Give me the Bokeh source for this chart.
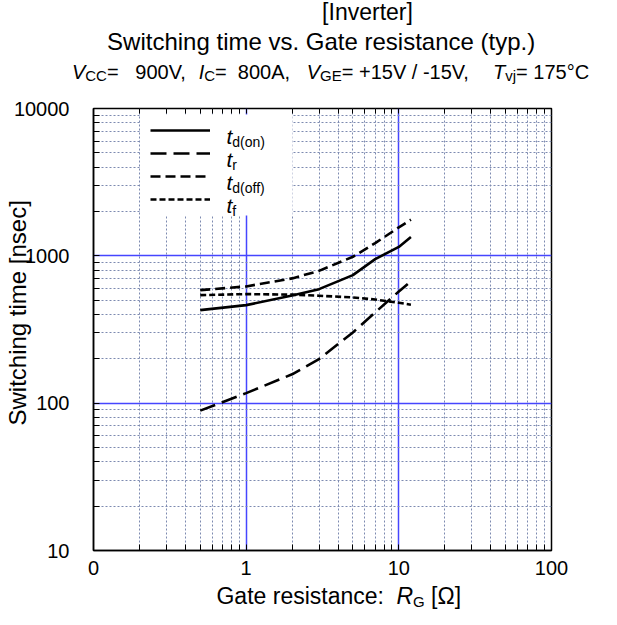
from bokeh.plotting import figure
from bokeh.layouts import column
from bokeh.models import FixedTicker, LogAxis, Label, Legend, LegendItem, Range1d, BoxAnnotation
from bokeh.core.properties import value
from bokeh.embed import file_html
from bokeh.resources import INLINE

# ---- data ----
rg = [0.5, 1, 2, 3, 5, 7, 10, 12]
td_on = [428, 463, 538, 594, 740, 950, 1150, 1340]
t_r = [89, 117, 157, 199, 302, 413, 573, 670]
td_off = [585, 620, 703, 790, 985, 1220, 1560, 1760]
t_f = [541, 550, 545, 536, 522, 505, 480, 466]

x_ticks = [0.1, 1, 10, 100]
x_tick_labels = ["0", "1", "10", "100"]
y_ticks = [10, 100, 1000, 10000]
y_tick_labels = ["10", "100", "1000", "10000"]
minor_x = [m * 10.0 ** k for k in (-1, 0, 1) for m in range(2, 10)]
minor_y = [m * 10.0 ** k for k in (1, 2, 3) for m in range(2, 10)]

FONT = "Liberation Sans"
W = 601
HEAD_H = 88
FL, FW = 91, 460
MT, FH, MB = 20, 442, 33
MAIN_H = MT + FH + MB
FOOT_H = 609 - HEAD_H - MAIN_H
PF_L = 8 + FL
PF_T = 8 + HEAD_H + MT
PF_B = PF_T + FH


def px2x(px):
    return 10 ** ((px - PF_L) / (FW / 3.0) - 1)


def py2y(py):
    return 10 ** (4 - (py - PF_T) / (FH / 3.0))


# ---------------- main figure ----------------
p = figure(width=W, height=MAIN_H, x_axis_type="log", y_axis_type="log",
           x_range=(0.1, 100), y_range=(10, 10000), title_location=None,
           output_backend="svg", toolbar_location=None, frame_align=False,
           min_border_left=FL, min_border_right=W - FL - FW,
           min_border_top=MT, min_border_bottom=MB)
p.background_fill_color = "white"
p.border_fill_color = "white"
p.outline_line_color = "black"
p.outline_line_width = 1.5

xa = p.xaxis[0]
xa.ticker = FixedTicker(ticks=x_ticks, minor_ticks=minor_x)
xa.major_label_overrides = dict(zip(x_ticks, x_tick_labels))
ya = p.yaxis[0]
ya.ticker = FixedTicker(ticks=y_ticks, minor_ticks=minor_y)
ya.major_label_overrides = dict(zip(y_ticks, y_tick_labels))
for ax in (xa, ya):
    ax.axis_line_color = "black"
    ax.axis_line_width = 1.5
    ax.major_tick_in = 6
    ax.major_tick_out = 0
    ax.minor_tick_in = 6
    ax.minor_tick_out = 0
    ax.major_tick_line_color = "black"
    ax.minor_tick_line_color = "black"
    ax.major_label_text_font = FONT
    ax.major_label_text_font_size = "20px"
    ax.major_label_text_color = "black"
xa.major_label_standoff = 10
ya.major_label_standoff = 24
ya.axis_label = "\u00a0" * 6 + "Switching time  [nsec]"
ya.axis_label_text_font = FONT
ya.axis_label_text_font_size = "24px"
ya.axis_label_text_font_style = "normal"
ya.axis_label_text_color = "black"
ya.axis_label_standoff = -20

top = LogAxis(ticker=FixedTicker(ticks=x_ticks, minor_ticks=minor_x),
              major_label_text_color=None, major_label_text_font_size="1px",
              major_label_standoff=0, axis_line_color=None,
              major_tick_in=5, major_tick_out=0, minor_tick_in=5, minor_tick_out=0,
              major_tick_line_color="black", minor_tick_line_color="black")
p.add_layout(top, "above")

for g in (p.xgrid[0], p.ygrid[0]):
    g.grid_line_color = "#4646ff"
    g.grid_line_width = 1.5
    g.minor_grid_line_color = "#7d8ab0"
    g.minor_grid_line_width = 1
    g.minor_grid_line_dash = "2 2"

# white legend background (hides the grid)
p.add_layout(BoxAnnotation(left=px2x(146), right=px2x(299), top=py2y(122), bottom=py2y(223),
                           fill_color="white", fill_alpha=1, line_alpha=0, level="glyph"))

r_on = p.line(rg, td_on, line_color="black", line_width=2.6)
r_r = p.line(rg, t_r, line_color="black", line_width=2.6, line_dash="16 7")
r_off = p.line(rg, td_off, line_color="black", line_width=2.6, line_dash="10 5")
r_f = p.line(rg, t_f, line_color="black", line_width=2.6, line_dash="6 3")

leg = Legend(items=[LegendItem(label="x", renderers=[r]) for r in (r_on, r_r, r_off, r_f)],
             location=(150 - PF_L, PF_B - 223),
             glyph_width=60, glyph_height=20, label_height=20, label_width=81,
             label_standoff=0, padding=6, spacing=3, margin=0,
             label_text_font_size="10px", label_text_alpha=0,
             border_line_alpha=0, background_fill_alpha=0)
p.add_layout(leg)

AW = {' ': 278, '=': 584, '+': 584, '-': 333, '/': 278, ',': 278, '.': 278, 'V': 667,
      'A': 667, 'C': 722, 'G': 778, 'E': 667, 'I': 278, 'T': 611, 'R': 722, 'v': 500,
      'j': 222, '°': 400, '[': 278, ']': 278, 'Ω': 768, 't': 278}


def tw(s, size):
    return sum(AW.get(c, 556) for c in s) * size / 1000.0


# legend texts (inside the frame)
subs = ["d(on)", "r", "d(off)", "f"]
rows = [138, 161, 184, 207]
for sub, ry in zip(subs, rows):
    for txt, px, py, sz, it in (("t", 232, ry + 6, 21, True),
                                (sub, 232 + tw("t", 21), ry + 11, 14, False)):
        p.add_layout(Label(x=px - PF_L, y=PF_B - py, x_units="screen", y_units="screen",
                           text=txt, text_font=FONT, text_font_size=f"{sz}px",
                           text_font_style="italic" if it else "normal",
                           text_color="black", text_baseline="alphabetic"))


# ---------------- text panels (header / footer) ----------------
def panel(h):
    f = figure(width=W, height=h, x_range=Range1d(0, W), y_range=Range1d(h, 0),
               title_location=None,
               output_backend="svg", toolbar_location=None, frame_align=False,
               x_axis_location=None, y_axis_location=None,
               min_border=0, min_border_left=0, min_border_right=0,
               min_border_top=0, min_border_bottom=0)
    f.outline_line_color = None
    f.background_fill_color = "white"
    f.border_fill_color = "white"
    f.xgrid.visible = False
    f.ygrid.visible = False
    return f


def put(f, y0, text, px, py, size, italic=False, align="left"):
    # py is the wanted baseline (page px); place the text box middle accordingly
    ymid = py - 0.3465 * size
    f.text(x=[px - 8], y=[ymid - y0], text=[text], text_font=value(FONT),
           text_font_size=value(f"{size}px"),
           text_font_style=value("italic" if italic else "normal"),
           text_align=value(align), text_baseline=value("middle"), text_color="black")


def run(f, y0, segments, center, baseline, shifts=None):
    total = sum(tw(t, s) for t, s, i, d in segments)
    x = center - total / 2.0
    for k, (t, s, i, d) in enumerate(segments):
        st = t.lstrip(" ")
        lead = tw(t[:len(t) - len(st)], s)
        dx = shifts[k] if shifts else 0
        if st.strip():
            put(f, y0, st, x + lead + dx, baseline + d, s, italic=i)
        x += tw(t, s)


head = panel(HEAD_H)
H0 = 8
put(head, H0, "[Inverter]", 375, 27, 23, align="center")
put(head, H0, "Switching time vs. Gate resistance  (typ.)", 332, 57, 24, align="center")
M, SB = 20, 15
run(head, H0, [("V", M, True, 0), ("CC", SB, False, 2), ("=", M, False, 0), ("   900V,", M, False, 0),
               ("  ", M, False, 0), ("I", M, True, 0), ("C", SB, False, 2), ("=", M, False, 0),
               ("  800A,", M, False, 0), ("   ", M, False, 0), ("V", M, True, 0), ("GE", SB, False, 2),
               ("= +15V / -15V,", M, False, 0), ("    ", M, False, 0), ("T", M, True, 0),
               ("vj", SB, False, 2), ("= 175°C", M, False, 0)], 338, 86)

foot = panel(FOOT_H)
F0 = 8 + HEAD_H + MAIN_H
XS = 23
run(foot, F0, [("Gate resistance: ", XS, False, 0), ("R", XS, True, 0), ("G", 15, False, 3),
               (" [Ω]", XS, False, 0)], 350, F0 + FOOT_H - 0.212 * XS - 0.6,
    shifts=[5, -12, -12, -12])

layout = column(head, p, foot, spacing=0)
open("out.html", "w").write(file_html(layout, INLINE))
